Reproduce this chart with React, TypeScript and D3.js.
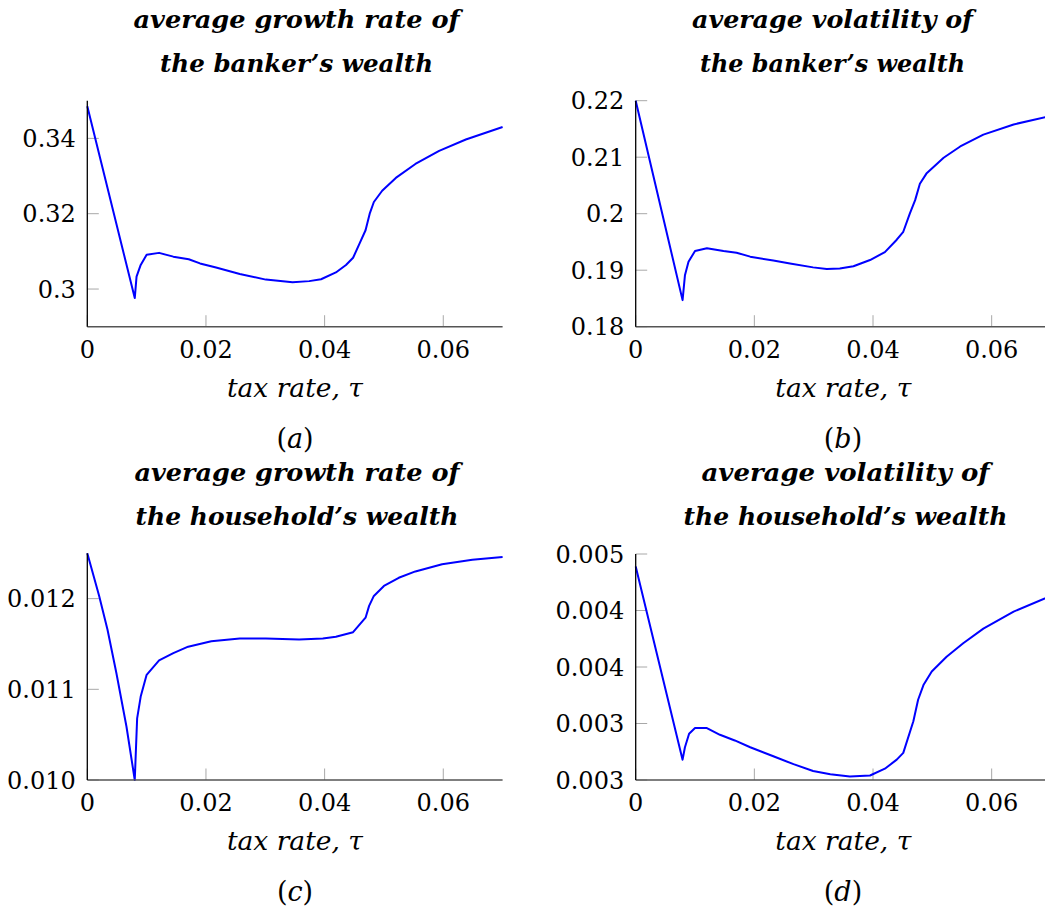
import React from "react";
import * as d3 from "d3";

// ---------- data ----------
const aTau = [0, 0.008, 0.0083, 0.009, 0.010, 0.0121, 0.0145, 0.0171, 0.019, 0.0217, 0.0257, 0.0301, 0.0346, 0.0374, 0.0394, 0.0419, 0.0436, 0.0448, 0.0459, 0.0469, 0.0476, 0.0483, 0.0497, 0.052, 0.0553, 0.0593, 0.0638, 0.07];
const aVal = [0.3485, 0.2976, 0.3033, 0.3064, 0.3091, 0.3096, 0.3086, 0.3079, 0.3068, 0.3057, 0.304, 0.3025, 0.3018, 0.3021, 0.3026, 0.3044, 0.3064, 0.3083, 0.3121, 0.3156, 0.32, 0.3231, 0.3261, 0.3295, 0.3332, 0.3367, 0.3397, 0.343];

const bTau = [0, 0.0079, 0.0083, 0.0089, 0.010, 0.012, 0.0148, 0.017, 0.0193, 0.0232, 0.026, 0.0299, 0.0322, 0.0344, 0.0367, 0.0395, 0.042, 0.044, 0.0451, 0.0462, 0.0471, 0.0479, 0.049, 0.0519, 0.0547, 0.0586, 0.0637, 0.07];
const bVal = [0.22, 0.1847, 0.1891, 0.1915, 0.1934, 0.1939, 0.1934, 0.1931, 0.1924, 0.1917, 0.1912, 0.1905, 0.1902, 0.1903, 0.1907, 0.1918, 0.1932, 0.1954, 0.1968, 0.2, 0.2024, 0.2053, 0.2071, 0.2099, 0.2119, 0.214, 0.2158, 0.2173];

const cTau = [0, 0.002, 0.0034, 0.0049, 0.0066, 0.008, 0.0084, 0.009, 0.010, 0.0121, 0.0145, 0.017, 0.0209, 0.0257, 0.0301, 0.0357, 0.0397, 0.0419, 0.0448, 0.0469, 0.0475, 0.0483, 0.05, 0.0525, 0.0553, 0.0598, 0.0649, 0.07];
const cVal = [0.0125, 0.01203, 0.01166, 0.01118, 0.01059, 0.0100, 0.01068, 0.01092, 0.01116, 0.01132, 0.0114, 0.01147, 0.01153, 0.01156, 0.01156, 0.01155, 0.01156, 0.01158, 0.01163, 0.01179, 0.01192, 0.01203, 0.01214, 0.01223, 0.0123, 0.01238, 0.01243, 0.01246];

const dTau = [0, 0.0079, 0.0083, 0.009, 0.010, 0.012, 0.0142, 0.0167, 0.0193, 0.0232, 0.0266, 0.0299, 0.0328, 0.0361, 0.0395, 0.042, 0.044, 0.0451, 0.0468, 0.0476, 0.0485, 0.0499, 0.0524, 0.0552, 0.0586, 0.0637, 0.07];
const dVal = [0.00489, 0.00318, 0.00329, 0.00341, 0.00346, 0.00346, 0.0034, 0.00335, 0.00329, 0.00321, 0.00314, 0.00308, 0.00305, 0.00303, 0.00304, 0.0031, 0.00318, 0.00324, 0.00352, 0.00371, 0.00384, 0.00396, 0.00409, 0.00421, 0.00434, 0.00449, 0.00463];

const xTicks = [0, 0.02, 0.04, 0.06];
const xTickLabels = ["0", "0.02", "0.04", "0.06"];

const aYTicks = [0.3, 0.32, 0.34];
const aYLabels = ["0.3", "0.32", "0.34"];
const bYTicks = [0.18, 0.19, 0.2, 0.21, 0.22];
const bYLabels = ["0.18", "0.19", "0.2", "0.21", "0.22"];
const cYTicks = [0.01, 0.011, 0.012];
const cYLabels = ["0.010", "0.011", "0.012"];
const dYTicks = [0.003, 0.0035, 0.004, 0.0045, 0.005];
const dYLabels = ["0.003", "0.003", "0.004", "0.004", "0.005"];

const titlesA = ["average growth rate of", "the banker\u2019s wealth"];
const titlesB = ["average volatility of", "the banker\u2019s wealth"];
const titlesC = ["average growth rate of", "the household\u2019s wealth"];
const titlesD = ["average volatility of", "the household\u2019s wealth"];

const xLabel = "tax rate, \u03c4";

// ---------- layout ----------
const W = 1045;
const H = 909;
const FONT = "'DejaVu Serif', serif";

type PanelProps = {
  left: number;
  bottom: number;
  top: number;
  yDomain: [number, number];
  yTicks: number[];
  yLabels: string[];
  tau: number[];
  vals: number[];
  titles: string[];
  titleCx: number;
  titleW: number[];
  caption: string;
  captionCx: number;
};

function Panel(p: PanelProps) {
  const plotW = 415.3;
  const x = d3.scaleLinear().domain([0, 0.07]).range([p.left, p.left + plotW]);
  const y = d3.scaleLinear().domain(p.yDomain).range([p.bottom, p.top]);
  const line = d3
    .line<number>()
    .x((_, i) => x(p.tau[i]))
    .y((v) => y(v))
    .curve(d3.curveLinear);
  const tickLen = 11.5;
  const midX = p.left + plotW / 2;
  return (
    <g>
      {p.titles.map((t, i) => (
        <text
          key={"t" + i}
          x={p.titleCx}
          y={p.bottom - 298.7 + i * 43.5}
          textAnchor="middle"
          fontFamily={FONT}
          fontStyle="italic"
          fontWeight="bold"
          fontSize={25}
          textLength={p.titleW[i]}
          lengthAdjust="spacingAndGlyphs"
        >
          {t}
        </text>
      ))}
      {p.yTicks.map((v, i) => (
        <g key={"y" + i}>
          <line x1={p.left} x2={p.left + tickLen} y1={y(v)} y2={y(v)} stroke="#a8a8a8" strokeWidth={1} />
          <text x={p.left - 11.5} y={y(v)} dy="0.36em" textAnchor="end" fontFamily={FONT} fontSize={24}>
            {p.yLabels[i]}
          </text>
        </g>
      ))}
      {xTicks.map((v, i) => (
        <g key={"x" + i}>
          <line x1={x(v)} x2={x(v)} y1={p.bottom} y2={p.bottom - tickLen} stroke="#a8a8a8" strokeWidth={1} />
          <text x={x(v)} y={p.bottom + 31} textAnchor="middle" fontFamily={FONT} fontSize={24}>
            {xTickLabels[i]}
          </text>
        </g>
      ))}
      <path d={line(p.vals) || ""} fill="none" stroke="#0000ff" strokeWidth={2} strokeLinejoin="round" />
      <line x1={p.left} x2={p.left + plotW} y1={p.bottom} y2={p.bottom} stroke="#555" strokeWidth={1.5} />
      <line x1={p.left} x2={p.left} y1={p.top} y2={p.bottom} stroke="#000" strokeWidth={1.3} />
      <text
        x={midX}
        y={p.bottom + 70}
        textAnchor="middle"
        fontFamily={FONT}
        fontStyle="italic"
        fontSize={26}
        textLength={136}
        lengthAdjust="spacingAndGlyphs"
      >
        {xLabel}
      </text>
      <text x={p.captionCx} y={p.bottom + 121} textAnchor="middle" fontFamily={FONT} fontSize={27}>
        (<tspan fontStyle="italic">{p.caption}</tspan>)
      </text>
    </g>
  );
}

export default function App() {
  const upperBottom = 326.7;
  const lowerBottom = 780;
  return (
    <div style={{ position: "absolute", left: 0, top: 0, width: W, height: H, background: "#fff" }}>
      <svg width={W} height={H} style={{ display: "block" }}>
        <rect width={W} height={H} fill="#fff" />
        <Panel
          left={87.3}
          bottom={upperBottom}
          top={100.7}
          yDomain={[0.29, 0.35]}
          yTicks={aYTicks}
          yLabels={aYLabels}
          tau={aTau}
          vals={aVal}
          titles={titlesA}
          titleCx={296.5}
          titleW={[326, 273]}
          caption="a"
          captionCx={295}
        />
        <Panel
          left={635.7}
          bottom={upperBottom}
          top={100.7}
          yDomain={[0.18, 0.22]}
          yTicks={bYTicks}
          yLabels={bYLabels}
          tau={bTau}
          vals={bVal}
          titles={titlesB}
          titleCx={832.5}
          titleW={[281, 265]}
          caption="b"
          captionCx={843}
        />
        <Panel
          left={87.3}
          bottom={lowerBottom}
          top={553.3}
          yDomain={[0.01, 0.0125]}
          yTicks={cYTicks}
          yLabels={cYLabels}
          tau={cTau}
          vals={cVal}
          titles={titlesC}
          titleCx={297}
          titleW={[325, 323]}
          caption="c"
          captionCx={295}
        />
        <Panel
          left={635.7}
          bottom={lowerBottom}
          top={554}
          yDomain={[0.003, 0.005]}
          yTicks={dYTicks}
          yLabels={dYLabels}
          tau={dTau}
          vals={dVal}
          titles={titlesD}
          titleCx={845.5}
          titleW={[288, 324]}
          caption="d"
          captionCx={843}
        />
      </svg>
    </div>
  );
}
